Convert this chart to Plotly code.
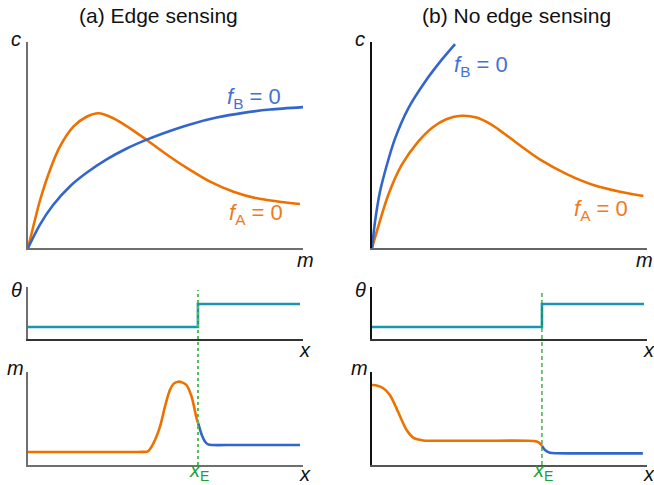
import plotly.graph_objects as go

W, H = 654, 485

# ---- (a) edge sensing: nullclines in the (m, c) plane ----
a_fA_m = [0, 1.9, 4.4, 8.0, 11.6, 16.5, 21.3, 25.6, 31.0, 37.1, 43.2, 51.6, 58.9, 66.2, 74.7, 83.2, 92.8, 98.9]
a_fA_c = [0, 10.3, 23.3, 37.9, 49.2, 58.9, 63.7, 65.4, 63.0, 58.1, 52.4, 44.3, 37.9, 32.2, 27.3, 24.1, 22.2, 21.4]
a_fB_m = [0, 4.4, 9.2, 15.3, 21.3, 28.6, 35.9, 43.2, 51.6, 58.9, 68.6, 78.3, 88.0, 100]
a_fB_c = [0, 11.5, 21.0, 30.0, 36.5, 43.0, 48.3, 52.6, 56.8, 60.0, 63.3, 65.6, 67.2, 68.4]

# ---- (b) no edge sensing: nullclines in the (m, c) plane ----
b_fA_m = [0, 2.3, 5.9, 10.8, 16.8, 22, 27, 32.5, 38, 43, 48, 54, 61, 70.8, 80.5, 90.2, 98.7]
b_fA_c = [0, 10.5, 25.7, 40.3, 51.6, 58.5, 62.5, 64.2, 63.3, 60.2, 55.6, 49.6, 43.0, 35.9, 30.6, 27.3, 25.2]
b_fB_m = [0, 1.1, 2.9, 5.4, 8.4, 13.2, 19.3, 25.3, 30.2]
b_fB_c = [0, 12.8, 27.3, 40.3, 53.2, 67.8, 80.7, 91.3, 99.0]

# ---- substrate angle theta(x), step at the edge x_E ----
x_edge = 61.8
theta_x = [0, x_edge, 98.9]
theta_v = [23, 67.3, 67.3]

# ---- (a) m(x) profile: orange branch left of edge, blue branch right of it ----
a_mA_x = [0, 20, 38, 42, 43.6, 45.6, 48.0, 49.8, 51.6, 53.0, 54.6, 56.2, 57.6, 59.5, 61.3, 61.9]
a_mA_v = [14.0, 14.0, 14.0, 14.1, 14.6, 23.3, 41.2, 62.7, 80.6, 87.5, 89.6, 88.6, 86.0, 73.4, 50.2, 44.8]
a_mB_x = [61.9, 63.2, 64.4, 65.5, 67.0, 75, 90, 98.9]
a_mB_v = [44.8, 32.3, 25.1, 22.2, 21.5, 21.5, 21.5, 21.5]

# ---- (b) m(x) profile ----
b_mA_x = [0, 2.0, 4.1, 6.5, 8.9, 10.8, 12.6, 15.0, 18.6, 22, 40, 56.5, 58.7, 60.5, 61.9]
b_mA_v = [86.0, 85.2, 82.5, 75.3, 60.9, 48.4, 37.6, 29.4, 26.4, 26.1, 26.1, 26.1, 25.8, 24.6, 20.4]
b_mB_x = [61.9, 62.9, 64.7, 67, 75, 90, 98.5]
b_mB_v = [20.4, 16.1, 13.2, 12.6, 12.5, 12.5, 12.5]

ORANGE = "#EE7100"
BLUE = "#3366CC"
TEAL = "#1896B0"
GREEN_A = "#55BB5A"
GREEN_B = "#189A22"
LW = 2.6


def px(x):
    return x / W


def py(y):
    return 1 - y / H


col_a = [px(28), px(303)]
col_b = [px(372), px(647)]
row_top = [py(248), py(42)]
row_theta = [py(339), py(287)]
row_m = [py(465), py(372)]

fig = go.Figure()


def curve(x, y, color, axis_n, shape="spline"):
    sfx = "" if axis_n == 1 else str(axis_n)
    line = dict(color=color, width=LW, shape=shape)
    if shape == "spline":
        line["smoothing"] = 0.8
    fig.add_trace(go.Scatter(
        x=x, y=y, mode="lines", line=line,
        xaxis="x" + sfx, yaxis="y" + sfx, showlegend=False, hoverinfo="skip",
    ))


curve(a_fA_m, a_fA_c, ORANGE, 1)
curve(a_fB_m, a_fB_c, BLUE, 1)
curve(b_fA_m, b_fA_c, ORANGE, 2)
curve(b_fB_m, b_fB_c, BLUE, 2)
curve(theta_x, theta_v, TEAL, 3, shape="hv")
curve(theta_x, theta_v, TEAL, 4, shape="hv")
curve(a_mA_x, a_mA_v, ORANGE, 5)
curve(a_mB_x, a_mB_v, BLUE, 5)
curve(b_mA_x, b_mA_v, ORANGE, 6)
curve(b_mB_x, b_mB_v, BLUE, 6)


def axis(domain, anchor, linecolor, linewidth):
    return dict(domain=domain, anchor=anchor, range=[0, 100], showline=True,
                linecolor=linecolor, linewidth=linewidth, showgrid=False,
                zeroline=False, showticklabels=False, ticks="", fixedrange=True)


GRAY = "#6f6f6f"
panels = [
    (1, col_a, row_top, GRAY, 2, GRAY, 2),
    (2, col_b, row_top, "#666666", 2, "#111111", 1.5),
    (3, col_a, row_theta, "#333333", 2, GRAY, 2),
    (4, col_b, row_theta, "#333333", 2, "#111111", 1.5),
    (5, col_a, row_m, GRAY, 2, GRAY, 2),
    (6, col_b, row_m, "#555555", 2, "#111111", 1.5),
]
layout_axes = {}
for n, cx, cy, xc, xw, yc, yw in panels:
    sfx = "" if n == 1 else str(n)
    layout_axes["xaxis" + sfx] = axis(cx, "y" + sfx, xc, xw)
    layout_axes["yaxis" + sfx] = axis(cy, "x" + sfx, yc, yw)

# edge position marker across the theta and m panels
shapes = [
    dict(type="line", xref="x3", yref="paper", x0=x_edge, x1=x_edge, y0=py(465), y1=py(290),
         line=dict(color=GREEN_A, width=2, dash="3px,3px")),
    dict(type="line", xref="x4", yref="paper", x0=x_edge, x1=x_edge, y0=py(465), y1=py(290),
         line=dict(color=GREEN_B, width=1.2, dash="4px,3px")),
]

TXT = "Liberation Sans"
annotations = []


def label(text, x, y, size=20, color="#111111", xanchor="center"):
    annotations.append(dict(text=text, x=px(x), y=py(y), xref="paper", yref="paper",
                            showarrow=False, xanchor=xanchor, yanchor="middle",
                            font=dict(family=TXT, size=size, color=color)))


label("(a) Edge sensing", 158, 16, size=21)
label("(b) No edge sensing", 516, 16, size=21)

for ox in (0, 344):
    label("<i>c</i>", 16 + ox, 39)
    label("<i>θ</i>", 16 + ox, 290)
    label("<i>x</i>", 305 + ox, 350)
    label("<i>m</i>", 15 + ox, 368)
    label("<i>x</i>", 305 + ox, 474)
label("<i>m</i>", 305, 260)
label("<i>m</i>", 644, 260)

label("<i>x</i><sub>E</sub>", 199, 471, color="#22A030")
label("<i>x</i><sub>E</sub>", 543, 471, color="#22A030")

label("<i>f</i><sub>B</sub> = 0", 254, 98, size=22, color="#4472D2")
label("<i>f</i><sub>A</sub> = 0", 256, 214, size=22, color="#EE7A1A")
label("<i>f</i><sub>B</sub> = 0", 481, 66, size=22, color="#4472D2")
label("<i>f</i><sub>A</sub> = 0", 601, 210, size=22, color="#EE7A1A")

fig.update_layout(
    width=W, height=H, margin=dict(l=0, r=0, t=0, b=0),
    paper_bgcolor="white", plot_bgcolor="white",
    shapes=shapes, annotations=annotations, **layout_axes,
)

fig.write_html("out.html", config={"displayModeBar": False})
